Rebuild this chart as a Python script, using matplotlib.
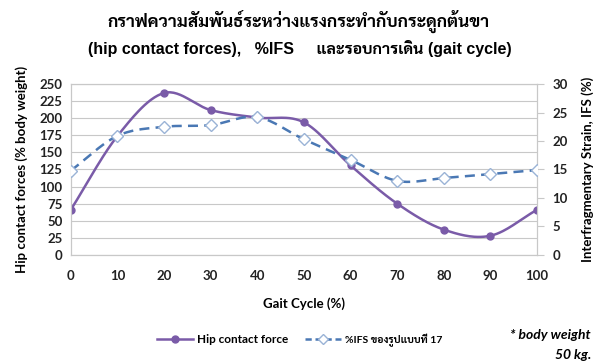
import numpy as np
import matplotlib
matplotlib.use('Agg')
import matplotlib.pyplot as plt
from matplotlib.lines import Line2D

# gait cycle points and the two measured series
gait = [0, 10, 20, 30, 40, 50, 60, 70, 80, 90, 100]
hip_force = [66, 174, 237, 212, 201, 194, 131, 75, 37, 28, 66]
ifs = [14.8, 20.9, 22.5, 22.8, 24.2, 20.3, 16.7, 13.0, 13.5, 14.2, 14.9]

THAI = ['Liberation Sans', 'Sarabun', 'DejaVu Sans']
SANS = ['Lato', 'Sarabun', 'DejaVu Sans']

purple = '#7a5ba8'
blue = '#4a78b4'


def smooth(x, y, n=30):
    # Catmull-Rom curve through the points, like a smoothed office line chart
    x = np.asarray(x, float)
    y = np.asarray(y, float)
    px = np.concatenate([[2 * x[0] - x[1]], x, [2 * x[-1] - x[-2]]])
    py = np.concatenate([[2 * y[0] - y[1]], y, [2 * y[-1] - y[-2]]])
    xs, ys = [], []
    t = np.linspace(0, 1, n)
    for i in range(1, len(px) - 2):
        for p, out in ((px, xs), (py, ys)):
            p0, p1, p2, p3 = p[i - 1], p[i], p[i + 1], p[i + 2]
            out.append(0.5 * (2 * p1 + (-p0 + p2) * t
                              + (2 * p0 - 5 * p1 + 4 * p2 - p3) * t ** 2
                              + (-p0 + 3 * p1 - 3 * p2 + p3) * t ** 3))
    return np.concatenate(xs), np.concatenate(ys)


fig = plt.figure(figsize=(6, 3.61), dpi=100)
ax = fig.add_axes([0.118, 0.294, 0.777, 0.473])
ax2 = ax.twinx()

hx, hy = smooth(gait, hip_force)
ax.plot(hx, hy, color=purple, lw=1.8, zorder=3)
ax.plot(gait, hip_force, 'o', color=purple, ms=5, zorder=4)

ix, iy = smooth(gait, ifs)
ax2.plot(ix, iy, color=blue, lw=1.8, ls=(0, (4, 2.5)), zorder=3)
ax2.plot(gait, ifs, 'D', mfc='white', mec='#9ab3d6', mew=1.0, ms=6, zorder=4)

ax.set_xlim(0, 100)
ax.set_ylim(0, 250)
ax2.set_ylim(0, 30)
ax.set_xticks(gait)
ax.set_yticks(np.arange(0, 251, 25))
ax2.set_yticks(np.arange(0, 31, 5))
ax.grid(axis='y', color='#c8c8c8', lw=0.8)
ax.set_axisbelow(True)

for a in (ax, ax2):
    for s in a.spines.values():
        s.set_color('#c8c8c8')
        s.set_linewidth(0.8)

ax.tick_params(axis='x', length=0, pad=11, labelsize=9.5, labelcolor='#222222')
ax.tick_params(axis='y', length=0, pad=6, labelsize=9.5, labelcolor='#222222')
ax2.tick_params(axis='y', length=5, color='#c8c8c8', pad=6, labelsize=9.5, labelcolor='#222222')
for lab in ax.get_xticklabels() + ax.get_yticklabels() + ax2.get_yticklabels():
    lab.set_fontfamily(SANS)
    lab.set_fontweight('bold')

ax.set_xlabel('Gait Cycle (%)', family=SANS, fontsize=9.5, fontweight='bold', labelpad=11)
ax.set_ylabel('Hip contact forces (% body weight)', family=SANS, fontsize=9.5,
              fontweight='bold', labelpad=8)
ax2.set_ylabel('Interfragmentary Strain, IFS (%)', family=SANS, fontsize=9.5,
               fontweight='bold', labelpad=10)

fig.text(0.498, 0.94, 'กราฟความสัมพันธ์ระหว่างแรงกระทำกับกระดูกต้นขา', ha='center',
         va='center', family=THAI, fontsize=12.5, fontweight='bold')
fig.text(0.5, 0.867, '(hip contact forces),   %IFS     และรอบการเดิน (gait cycle)',
         ha='center', va='center', family=THAI, fontsize=11.5, fontweight='bold')

handles = [
    Line2D([], [], color=purple, lw=1.8, marker='o', ms=5),
    Line2D([], [], color=blue, lw=1.8, ls=(0, (2.5, 1.5)), marker='D',
           mfc='white', mec='#9ab3d6', ms=5),
]
leg = fig.legend(handles, ['Hip contact force', '%IFS ของรูปแบบที่ 17'],
                 loc='center', bbox_to_anchor=(0.5, 0.058), ncol=2, frameon=False,
                 handlelength=3.0, columnspacing=1.4, handletextpad=0.4,
                 prop={'family': SANS, 'size': 8.5, 'weight': 'bold'})
leg.get_texts()[1].set_fontsize(7.5)

fig.text(0.985, 0.072, '* body weight', ha='right', va='center', family=SANS,
         fontsize=10, fontweight='bold', style='italic')
fig.text(0.985, 0.017, '50 kg.', ha='right', va='center', family=SANS,
         fontsize=10, fontweight='bold', style='italic')

fig.savefig('out.png')
